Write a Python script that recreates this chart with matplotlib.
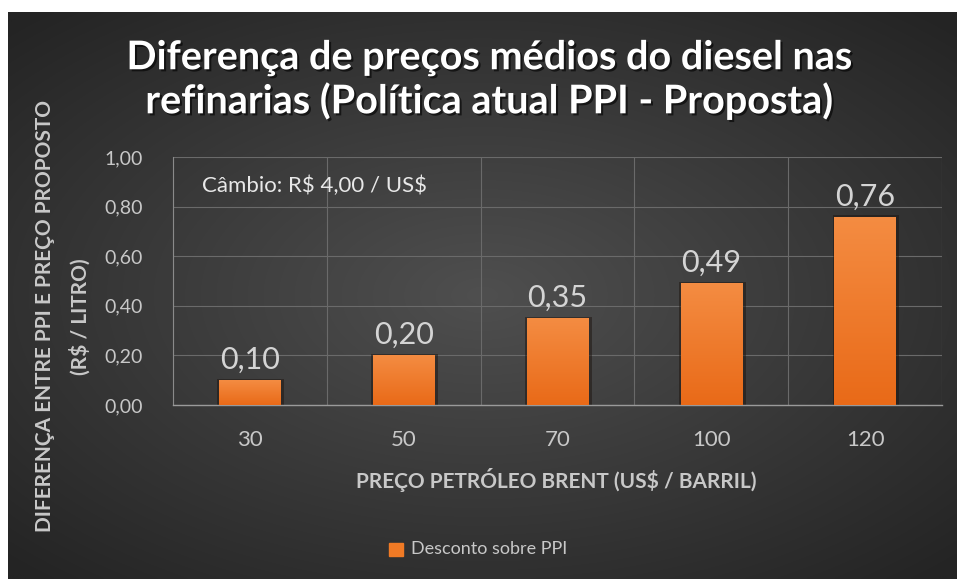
import numpy as np
import matplotlib
matplotlib.use("Agg")
import matplotlib.pyplot as plt
import matplotlib.patheffects as pe

# dados
categorias = ["30", "50", "70", "100", "120"]
valores = [0.10, 0.20, 0.35, 0.49, 0.76]
rotulos = ["0,10", "0,20", "0,35", "0,49", "0,76"]
yticks = [0.0, 0.2, 0.4, 0.6, 0.8, 1.0]
ytick_labels = ["0,00", "0,20", "0,40", "0,60", "0,80", "1,00"]

plt.rcParams['font.family'] = ['Lato', 'DejaVu Sans']

W, H = 957, 579
fig = plt.figure(figsize=(W/100, H/100), dpi=100)
fig.patch.set_facecolor("white")

# fundo com gradiente radial
bg = fig.add_axes([8/W, 0, 1 - 8/W, 1 - 12/H])
gx, gy = np.meshgrid(np.linspace(-1, 1, 400), np.linspace(-1, 1, 240))
r = np.sqrt((gx*0.95)**2 + (gy*1.0)**2)
r = np.clip(r/1.35, 0, 1)
c0 = np.array([0x4f, 0x4f, 0x4f])/255
c1 = np.array([0x24, 0x24, 0x24])/255
img = c0[None, None, :]*(1 - r[..., None]) + c1[None, None, :]*r[..., None]
bg.imshow(img, aspect="auto", extent=[0, 1, 0, 1], interpolation="bilinear")
bg.set_axis_off()

# area do grafico
ax = fig.add_axes([173/W, 1 - 405/H, (942 - 173)/W, (405 - 157)/H])
ax.set_facecolor("none")
x = np.arange(len(categorias))
largura = 0.4

# sombra das barras
for xi, v in zip(x, valores):
    ax.bar(xi + 0.006, v + 0.006, width=largura + 0.035, color="#1e1510", alpha=0.5, zorder=2)

bars = ax.bar(x, valores, width=largura, color="#f07a25", zorder=3)

# gradiente nas barras
grad = np.linspace(0, 1, 100)[:, None]
ctop = np.array([0xf4, 0x8c, 0x42])/255
cbot = np.array([0xe9, 0x6a, 0x18])/255
gimg = ctop[None, None, :]*(1 - grad[..., None]) + cbot[None, None, :]*grad[..., None]
for b in bars:
    bx, by = b.get_x(), b.get_y()
    bw, bh = b.get_width(), b.get_height()
    im = ax.imshow(gimg, extent=[bx, bx + bw, by, by + bh], aspect="auto", zorder=4)
    im.set_clip_path(b)

for xi, v, t in zip(x, valores, rotulos):
    ax.text(xi, v + 0.025, t, ha="center", va="bottom", fontsize=22,
            color="#d4d4d4", zorder=5)

ax.set_xlim(-0.5, len(categorias) - 0.5)
ax.set_ylim(0, 1.0)
ax.set_yticks(yticks)
ax.set_yticklabels(ytick_labels, fontsize=14, color="#c8c8c8")
ax.set_xticks(x)
ax.set_xticklabels(categorias, fontsize=16, color="#c8c8c8")
ax.tick_params(axis="both", length=0)
ax.tick_params(axis="y", pad=22)
ax.tick_params(axis="x", pad=18)

# grades
ax.set_xticks(np.arange(len(categorias) + 1) - 0.5, minor=True)
ax.grid(axis="y", which="major", color="#6a6a6a", linewidth=0.8, zorder=0)
ax.grid(axis="x", which="minor", color="#6a6a6a", linewidth=0.8, zorder=0)
ax.tick_params(axis="x", which="minor", length=0)
for s in ["top", "right"]:
    ax.spines[s].set_visible(False)
ax.spines["left"].set_color("#8a8a8a")
ax.spines["bottom"].set_color("#9a9a9a")
ax.spines["left"].set_linewidth(0.8)
ax.spines["bottom"].set_linewidth(1.0)

ax.text(0.038, 0.885, "Câmbio: R\\$ 4,00 / US\\$", transform=ax.transAxes,
        fontsize=16, color="#e8e8e8", va="center", ha="left")

sombra = [pe.withSimplePatchShadow(offset=(1.5, -1.5), shadow_rgbFace="black", alpha=0.6)]
fig.text(490/W, 1 - 58/H, "Diferença de preços médios do diesel nas", ha="center", va="center",
         fontsize=28.5, fontweight="bold", color="white", path_effects=sombra)
fig.text(490/W, 1 - 101/H, "refinarias (Política atual PPI - Proposta)", ha="center", va="center",
         fontsize=28.5, fontweight="bold", color="white", path_effects=sombra)

fig.text(556/W, 1 - 480/H, "PREÇO PETRÓLEO BRENT (US\\$ / BARRIL)", ha="center", va="center",
         fontsize=15, fontweight="bold", color="#c8c8c8")
fig.text(45/W, 1 - 316/H, "DIFERENÇA ENTRE PPI E PREÇO PROPOSTO", ha="center", va="center",
         rotation=90, fontsize=15, fontweight="bold", color="#c8c8c8")
fig.text(80/W, 1 - 317/H, "(R\\$ / LITRO)", ha="center", va="center",
         rotation=90, fontsize=15, fontweight="bold", color="#c8c8c8")

# legenda
fig.patches.append(plt.Rectangle((389/W, 1 - 556/H), 14/W, 13/H, transform=fig.transFigure,
                                 color="#f07a25", figure=fig))
fig.text(411/W, 1 - 549/H, "Desconto sobre PPI", ha="left", va="center",
         fontsize=13, color="#c8c8c8")

fig.savefig("out.png", dpi=100)
